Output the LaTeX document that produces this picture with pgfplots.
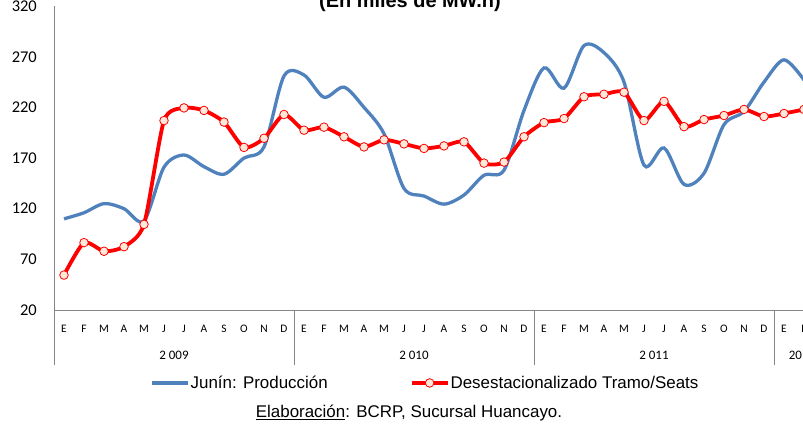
\documentclass[border=0pt]{standalone}
\usepackage{pgfplots}
\pgfplotsset{compat=1.18}
\usepackage{pgfplotstable}
\usepackage{fontspec}
\setmainfont{Liberation Sans}
\newfontfamily\calibri{Carlito}
\definecolor{excelblue}{RGB}{79,129,189}
\definecolor{axisgray}{RGB}{134,134,134}
\definecolor{peach}{RGB}{253,233,217}

\pgfplotstableread{
x prod desest
0 110 54.5
1 116 86.5
2 125 78
3 120 82.5
4 108 104.5
5 161 207
6 173 219.5
7 161.5 217
8 154 205.5
9 170 180.5
10 181 189.5
11 251 213
12 252 197.5
13 230 200.5
14 240 191
15 220 181
16 194 188
17 140 184
18 132.5 179.5
19 124.5 182
20 133.5 186
21 153 165
22 158 166
23 217 191
24 259 205
25 239 209
26 281 230.5
27 274 233
28 245 235
29 163 207
30 180 226
31 144 201
32 155 208
33 203 212
34 216 218
35 245 211
36 267 214
37 247 218
}\datatable

\begin{document}
\begin{tikzpicture}
\useasboundingbox (0,0) rectangle (803bp,428bp);
\begin{axis}[
  at={(54bp,118bp)}, anchor=south west,
  x=20bp, y=1.013bp,
  xmin=-0.5, xmax=37.5, ymin=20, ymax=320,
  axis x line*=bottom, axis y line*=left,
  axis line style={axisgray, line width=0.8bp},
  tick align=inside,
  ytick={20,70,...,320},
  ytick style={draw=none},
  yticklabel style={font=\calibri\fontsize{16.5}{16.5}\selectfont, anchor=east, inner sep=0pt, xshift=-17bp},
  /pgf/number format/assume math mode=true,
  xtick={0,...,37},
  xticklabels={E,F,M,A,M,J,J,A,S,O,N,D,E,F,M,A,M,J,J,A,S,O,N,D,E,F,M,A,M,J,J,A,S,O,N,D,E,F},
  xtick style={draw=none},
  xticklabel style={font=\calibri\fontsize{11.5}{11.5}\selectfont, anchor=north, inner sep=0pt, text height=7.5bp, text depth=0pt, yshift=-14.5bp},
  clip mode=individual,
  legend columns=2,
  legend style={at={(0.488,-0.240)}, anchor=center, draw=none, fill=none,
    font=\fontsize{17}{17}\selectfont, inner sep=0pt,
    nodes={inner sep=1bp},
    /tikz/every odd column/.append style={column sep=0bp},
    /tikz/every even column/.append style={column sep=81bp}},
  legend image code/.code={\draw[mark repeat=2,mark phase=2,#1] plot coordinates {(0bp,0bp) (18bp,0bp) (36bp,0bp)};},
]
\addplot[excelblue, line width=3.3bp, smooth, tension=0.5] table[x=x, y=prod] {\datatable};
\addlegendentry{Junín: Producción}
\addplot[red, line width=3.8bp, smooth, tension=0.4, mark=*, mark size=4.3bp,
  mark options={fill=peach, draw=red, line width=0.8bp}] table[x=x, y=desest] {\datatable};
\addlegendentry{Desestacionalizado Tramo/Seats}
\foreach \s in {-0.5,11.5,23.5,35.5} {
  \edef\tmp{\noexpand\draw[axisgray, line width=0.8bp] (axis cs:\s,20) -- ([yshift=-55bp]axis cs:\s,20);}
  \tmp
}
\node[font=\calibri\fontsize{13}{13}\selectfont] at ([yshift=-45.5bp]axis cs:5.5,20) {2 009};
\node[font=\calibri\fontsize{13}{13}\selectfont] at ([yshift=-45.5bp]axis cs:17.5,20) {2 010};
\node[font=\calibri\fontsize{13}{13}\selectfont] at ([yshift=-45.5bp]axis cs:29.5,20) {2 011};
\node[font=\calibri\fontsize{13}{13}\selectfont] at ([yshift=-45.5bp]axis cs:36.9,20) {2012};
\end{axis}
\node[font=\bfseries\fontsize{20}{20}\selectfont, anchor=base] at (410bp,420.5bp) {(En miles de MW.h)};
\node[font=\fontsize{17}{17}\selectfont] at (409bp,15bp) {\underline{Elaboración}: BCRP, Sucursal Huancayo.};
\end{tikzpicture}
\end{document}
